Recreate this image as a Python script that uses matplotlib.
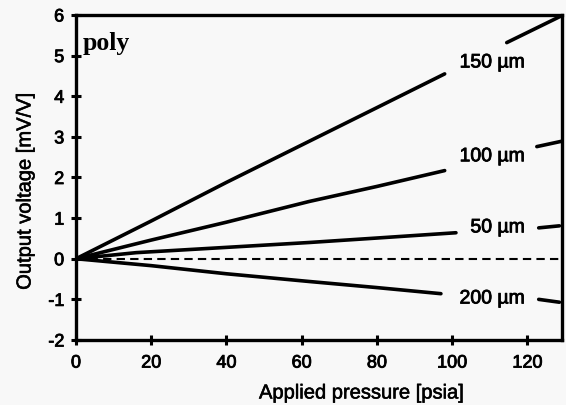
import numpy as np
import matplotlib
matplotlib.use("Agg")
import matplotlib.pyplot as plt
import matplotlib.patheffects as pe

# Data (pressure in psia, output in mV/V)
p_150 = [0, 20, 40, 60, 80, 98, np.nan, 114.5, 129.5]
v_150 = [0, 0.93, 1.88, 2.80, 3.72, 4.55, np.nan, 5.32, 6.0]

p_100 = [0, 20, 40, 62, 80, 98, np.nan, 122.5, 129.5]
v_100 = [0, 0.46, 0.90, 1.41, 1.78, 2.17, np.nan, 2.76, 2.90]

p_50 = [0, 16, 40, 62, 80, 101, np.nan, 123, 128.5]
v_50 = [0, 0.15, 0.28, 0.40, 0.51, 0.64, np.nan, 0.76, 0.81]

p_200 = [0, 20, 40, 62, 80, 97, np.nan, 123, 128.5]
v_200 = [0, -0.17, -0.37, -0.56, -0.71, -0.86, np.nan, -1.00, -1.07]

p_zero = [0, 129.5]
v_zero = [0, 0]

labels = ["150 µm", "100 µm", "50 µm", "200 µm"]
label_pos = [(119.4, 4.82), (119.4, 2.51), (119.4, 0.76), (119.4, -0.99)]

x_ticks = [0, 20, 40, 60, 80, 100, 120]
y_ticks = [-2, -1, 0, 1, 2, 3, 4, 5, 6]

bg = "#f8f8f8"
plt.rcParams['font.family'] = ['Liberation Sans', 'DejaVu Sans']
plt.rcParams['axes.unicode_minus'] = False

heavy = [pe.withStroke(linewidth=0.6, foreground="black")]

fig = plt.figure(figsize=(5.66, 4.05), dpi=100, facecolor=bg)
ax = fig.add_axes([0.1343, 0.1605, 0.8587, 0.8025], facecolor=bg)

lw = 2.6
for p, v in [(p_150, v_150), (p_100, v_100), (p_50, v_50), (p_200, v_200)]:
    ax.plot(p, v, color="black", lw=lw, solid_capstyle="round")
ax.plot(p_zero, v_zero, color="black", lw=1.5, linestyle=(0, (4, 2.5)))

for lab, (x, y) in zip(labels, label_pos):
    ax.text(x, y, lab, fontsize=14, ha="right", va="center", color="black",
            path_effects=heavy)

ax.text(1.9, 5.14, "poly", fontsize=18.5, fontweight="bold",
        family=["Liberation Serif", "DejaVu Serif"], ha="left", va="baseline")

ax.set_xlim(0, 129.2)
ax.set_ylim(-2, 6)
ax.set_xticks(x_ticks)
ax.set_yticks(y_ticks)
ax.tick_params(axis="both", direction="inout", length=7, width=2.2,
               labelsize=13, top=False, right=False)
ax.tick_params(axis="x", pad=7)
ax.tick_params(axis="y", pad=5)
for s in ax.spines.values():
    s.set_linewidth(2.4)
for t in ax.get_xticklabels() + ax.get_yticklabels():
    t.set_path_effects(heavy)

ax.set_xlabel("Applied pressure [psia]", fontsize=14.5)
ax.set_ylabel("Output voltage [mV/V]", fontsize=14.5)
ax.xaxis.set_label_coords(0.588, -0.163)
ax.yaxis.set_label_coords(-0.105, 0.458)
ax.xaxis.label.set_va("center")
ax.yaxis.label.set_va("center")
ax.xaxis.label.set_path_effects([pe.withStroke(linewidth=0.4, foreground="black")])
ax.yaxis.label.set_path_effects([pe.withStroke(linewidth=0.4, foreground="black")])

fig.savefig("out.png", dpi=100, facecolor=bg)
